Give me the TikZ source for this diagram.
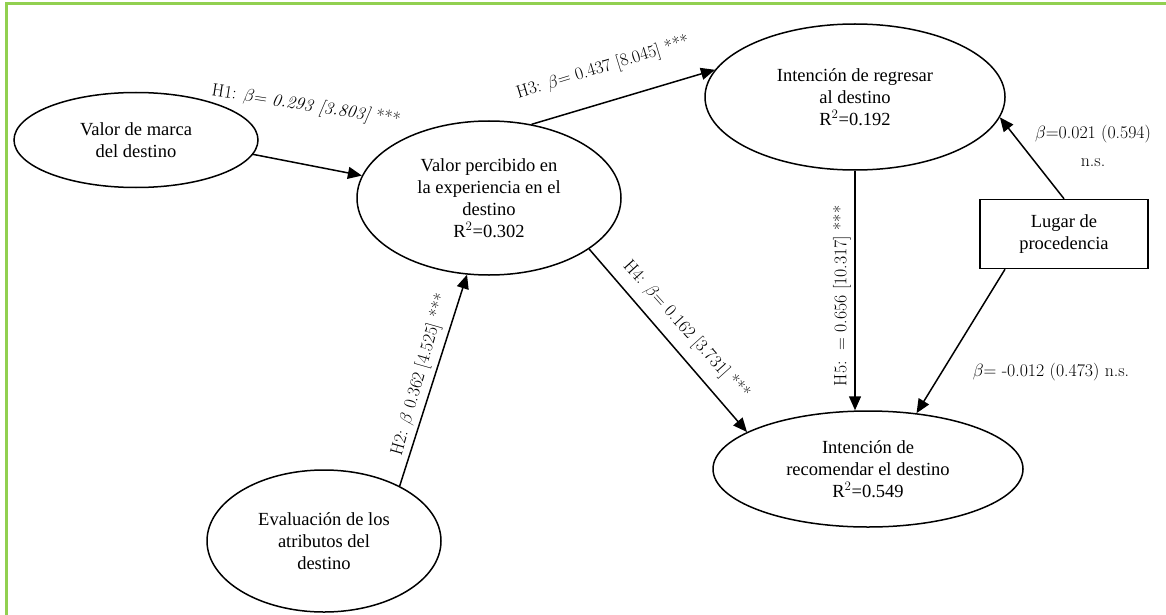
\documentclass[tikz,border=0pt]{standalone}
\usepackage{fix-cm}
\usepackage{fontspec}
\newfontfamily\nodefont{Liberation Serif}
\usetikzlibrary{shapes.geometric,arrows.meta}
\definecolor{framegreen}{RGB}{146,208,80}
\begin{document}
\begin{tikzpicture}[x=1pt,y=-1pt,
  ell/.style={draw, ellipse, line width=1.5pt, inner sep=0pt, align=center,
    font=\nodefont\fontsize{18.5}{22}\selectfont},
  box/.style={draw, rectangle, line width=1.5pt, inner sep=0pt, align=center,
    font=\nodefont\fontsize{18.5}{22}\selectfont},
  conn/.style={line width=1.5pt, -{Triangle[length=14pt,width=12pt]}},
  lab/.style={font=\fontsize{17.8}{21}\selectfont, inner sep=1pt, align=center}]
\useasboundingbox (0,0) rectangle (1166,615);
\draw[framegreen, line width=3pt] (6,615) -- (6,4) -- (1166,4);

\node[ell, minimum width=244, minimum height=95] (brand) at (136,140) {Valor de marca\\del destino};
\node[ell, minimum width=264, minimum height=154] (perc) at (489,198) {Valor percibido en\\la experiencia en el\\destino\\R$^2$=0.302};
\node[ell, minimum width=300, minimum height=146] (ret) at (855,97) {Intención de regresar\\al destino\\R$^2$=0.192};
\node[ell, minimum width=310, minimum height=116] (rec) at (868,469) {Intención de\\recomendar el destino\\R$^2$=0.549};
\node[ell, minimum width=234, minimum height=142] (attr) at (324,541) {Evaluación de los\\atributos del\\destino};
\node[box, minimum width=168, minimum height=69] (lugar) at (1064,234) {Lugar de\\procedencia};

\coordinate (h5end) at (ret.south |- rec.north);
\coordinate (l2start) at ([xshift=-59pt]lugar.south);

\draw[conn] (brand.-7.5) -- (perc.170.5);
\draw[conn] (perc.60) -- (ret.169);
\draw[conn] (attr.36) -- (perc.-106.6);
\draw[conn] (perc.-27) -- (rec.163);
\draw[conn] (ret.south) -- (h5end);
\draw[conn] (lugar.north) -- (ret.-8.4);
\draw[conn] (l2start) -- (rec.49.5);

\node[lab, rotate=-9] (h1) at (306,106) {H1: $\beta$= \textit{0.293 [3.803]} ***};
\node[lab, rotate=17] (h3) at (603,68) {H3: $\beta$= 0.437 [8.045] ***};
\node[lab, rotate=74] (h2) at (420,375) {H2: $\beta$ 0.362 [4.525] ***};
\node[lab, rotate=-48] (h4) at (686,330) {H4: $\beta$= 0.162 [3.731] ***};
\node[lab, rotate=90] (h5) at (842,296) {H5:\ \ = 0.656 [10.317] ***};
\node[lab, font=\fontsize{17.8}{28}\selectfont] (l1) at (1093,146) {$\beta$=0.021 (0.594)\\n.s.};
\node[lab] (l2) at (1051,372) {$\beta$= -0.012 (0.473) n.s.};
\end{tikzpicture}
\end{document}
